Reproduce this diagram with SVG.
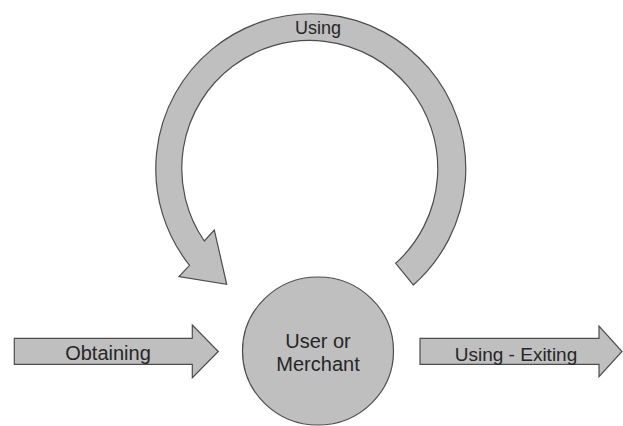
<svg xmlns="http://www.w3.org/2000/svg" width="623" height="426" viewBox="0 0 623 426">
<style>
.shape{fill:#bfbfbf;stroke:#4d4d4d;stroke-width:1.2;stroke-linejoin:miter}
.lbl{font-family:"Liberation Sans",Arial,sans-serif;fill:#262626;text-anchor:middle}
</style>
<rect width="623" height="426" fill="#ffffff"/>
<g id="connectors">
<g id="using-loop">
<path class="shape" d="M413.3,285 A155,155 0 1 0 189.5,265.3 L179,276.7 L226.7,284.3 L214.3,230 L204.3,241 A128,128 0 1 1 395.7,263.3 Z"/>
<text class="lbl" x="318" y="34" font-size="18">Using</text>
</g>
<g id="obtaining">
<path class="shape" d="M14.3,338.3 L192.3,338.3 L192.3,325 L218.3,351.5 L192.3,377.7 L192.3,364.3 L14.3,364.3 Z"/>
<text class="lbl" x="108" y="360" font-size="20">Obtaining</text>
</g>
<g id="using-exiting">
<path class="shape" d="M420,338.3 L599,338.3 L599,326 L622,351.5 L599,376.7 L599,364.3 L420,364.3 Z"/>
<text class="lbl" x="516" y="361" font-size="19">Using - Exiting</text>
</g>
</g>
<g id="user-merchant">
<ellipse class="shape" cx="318" cy="351" rx="75.5" ry="74"/>
<text class="lbl" x="318" y="348" font-size="20">User or</text>
<text class="lbl" x="318" y="371" font-size="20">Merchant</text>
</g>
</svg>
